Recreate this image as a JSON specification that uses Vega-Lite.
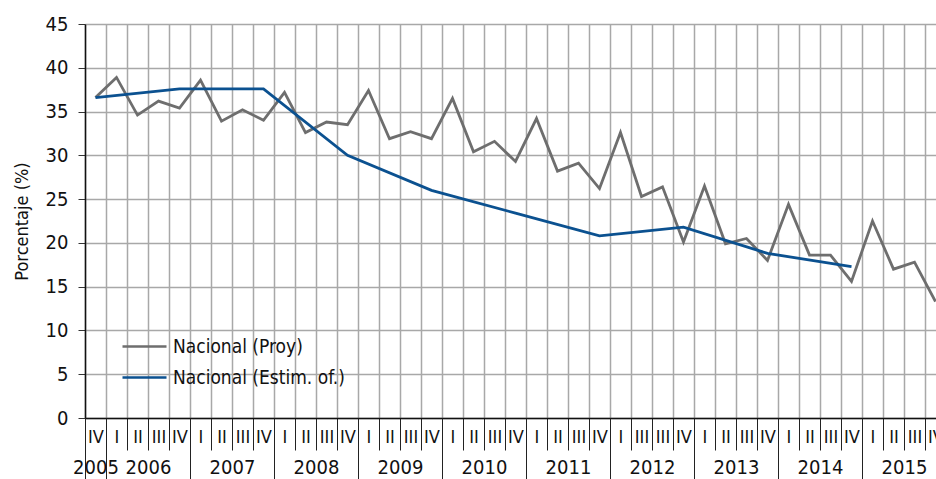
{
  "$schema": "https://vega.github.io/schema/vega-lite/v6.json",
  "width": 851,
  "height": 394,
  "autosize": {"type": "none"},
  "padding": {"left": 85, "top": 24, "right": 0, "bottom": 61},
  "config": {
    "font": "'DejaVu Sans Condensed', Roboto, sans-serif",
    "view": {"stroke": null},
    "axis": {"labelColor": "#111111", "titleColor": "#111111", "labelFont": "'DejaVu Sans Condensed', Roboto, sans-serif", "titleFont": "'DejaVu Sans Condensed', Roboto, sans-serif"},
    "legend": {"labelFont": "'DejaVu Sans Condensed', Roboto, sans-serif"}
  },
  "data": {
    "values": [
      {"serie": "Nacional (Proy)", "periodo": "2005-IV", "t": 2005.875, "valor": 36.6},
      {"serie": "Nacional (Proy)", "periodo": "2006-I", "t": 2006.125, "valor": 38.9},
      {"serie": "Nacional (Proy)", "periodo": "2006-II", "t": 2006.375, "valor": 34.6},
      {"serie": "Nacional (Proy)", "periodo": "2006-III", "t": 2006.625, "valor": 36.2},
      {"serie": "Nacional (Proy)", "periodo": "2006-IV", "t": 2006.875, "valor": 35.4},
      {"serie": "Nacional (Proy)", "periodo": "2007-I", "t": 2007.125, "valor": 38.6},
      {"serie": "Nacional (Proy)", "periodo": "2007-II", "t": 2007.375, "valor": 33.9},
      {"serie": "Nacional (Proy)", "periodo": "2007-III", "t": 2007.625, "valor": 35.2},
      {"serie": "Nacional (Proy)", "periodo": "2007-IV", "t": 2007.875, "valor": 34.0},
      {"serie": "Nacional (Proy)", "periodo": "2008-I", "t": 2008.125, "valor": 37.2},
      {"serie": "Nacional (Proy)", "periodo": "2008-II", "t": 2008.375, "valor": 32.6},
      {"serie": "Nacional (Proy)", "periodo": "2008-III", "t": 2008.625, "valor": 33.8},
      {"serie": "Nacional (Proy)", "periodo": "2008-IV", "t": 2008.875, "valor": 33.5},
      {"serie": "Nacional (Proy)", "periodo": "2009-I", "t": 2009.125, "valor": 37.4},
      {"serie": "Nacional (Proy)", "periodo": "2009-II", "t": 2009.375, "valor": 31.9},
      {"serie": "Nacional (Proy)", "periodo": "2009-III", "t": 2009.625, "valor": 32.7},
      {"serie": "Nacional (Proy)", "periodo": "2009-IV", "t": 2009.875, "valor": 31.9},
      {"serie": "Nacional (Proy)", "periodo": "2010-I", "t": 2010.125, "valor": 36.5},
      {"serie": "Nacional (Proy)", "periodo": "2010-II", "t": 2010.375, "valor": 30.4},
      {"serie": "Nacional (Proy)", "periodo": "2010-III", "t": 2010.625, "valor": 31.6},
      {"serie": "Nacional (Proy)", "periodo": "2010-IV", "t": 2010.875, "valor": 29.3},
      {"serie": "Nacional (Proy)", "periodo": "2011-I", "t": 2011.125, "valor": 34.2},
      {"serie": "Nacional (Proy)", "periodo": "2011-II", "t": 2011.375, "valor": 28.2},
      {"serie": "Nacional (Proy)", "periodo": "2011-III", "t": 2011.625, "valor": 29.1},
      {"serie": "Nacional (Proy)", "periodo": "2011-IV", "t": 2011.875, "valor": 26.2},
      {"serie": "Nacional (Proy)", "periodo": "2012-I", "t": 2012.125, "valor": 32.6},
      {"serie": "Nacional (Proy)", "periodo": "2012-II", "t": 2012.375, "valor": 25.3},
      {"serie": "Nacional (Proy)", "periodo": "2012-III", "t": 2012.625, "valor": 26.4},
      {"serie": "Nacional (Proy)", "periodo": "2012-IV", "t": 2012.875, "valor": 20.1},
      {"serie": "Nacional (Proy)", "periodo": "2013-I", "t": 2013.125, "valor": 26.5},
      {"serie": "Nacional (Proy)", "periodo": "2013-II", "t": 2013.375, "valor": 19.9},
      {"serie": "Nacional (Proy)", "periodo": "2013-III", "t": 2013.625, "valor": 20.5},
      {"serie": "Nacional (Proy)", "periodo": "2013-IV", "t": 2013.875, "valor": 18.0},
      {"serie": "Nacional (Proy)", "periodo": "2014-I", "t": 2014.125, "valor": 24.4},
      {"serie": "Nacional (Proy)", "periodo": "2014-II", "t": 2014.375, "valor": 18.6},
      {"serie": "Nacional (Proy)", "periodo": "2014-III", "t": 2014.625, "valor": 18.6},
      {"serie": "Nacional (Proy)", "periodo": "2014-IV", "t": 2014.875, "valor": 15.6},
      {"serie": "Nacional (Proy)", "periodo": "2015-I", "t": 2015.125, "valor": 22.5},
      {"serie": "Nacional (Proy)", "periodo": "2015-II", "t": 2015.375, "valor": 17.0},
      {"serie": "Nacional (Proy)", "periodo": "2015-III", "t": 2015.625, "valor": 17.8},
      {"serie": "Nacional (Proy)", "periodo": "2015-IV", "t": 2015.875, "valor": 13.3},
      {"serie": "Nacional (Estim. of.)", "periodo": "2005-IV", "t": 2005.875, "valor": 36.6},
      {"serie": "Nacional (Estim. of.)", "periodo": "2006-IV", "t": 2006.875, "valor": 37.6},
      {"serie": "Nacional (Estim. of.)", "periodo": "2007-IV", "t": 2007.875, "valor": 37.6},
      {"serie": "Nacional (Estim. of.)", "periodo": "2008-IV", "t": 2008.875, "valor": 30.0},
      {"serie": "Nacional (Estim. of.)", "periodo": "2009-IV", "t": 2009.875, "valor": 26.0},
      {"serie": "Nacional (Estim. of.)", "periodo": "2010-IV", "t": 2010.875, "valor": 23.4},
      {"serie": "Nacional (Estim. of.)", "periodo": "2011-IV", "t": 2011.875, "valor": 20.8},
      {"serie": "Nacional (Estim. of.)", "periodo": "2012-IV", "t": 2012.875, "valor": 21.8},
      {"serie": "Nacional (Estim. of.)", "periodo": "2013-IV", "t": 2013.875, "valor": 18.8},
      {"serie": "Nacional (Estim. of.)", "periodo": "2014-IV", "t": 2014.875, "valor": 17.3}
    ]
  },
  "resolve": {"axis": {"x": "independent"}},
  "layer": [
    {
      "mark": {"type": "line", "strokeWidth": 2.8, "clip": true},
      "encoding": {
        "x": {
          "field": "t", "type": "quantitative",
          "scale": {"domain": [2005.75, 2015.88095], "nice": false, "zero": false},
          "axis": {
            "orient": "bottom", "title": null, "labels": false,
            "values": [2005.75, 2006, 2006.25, 2006.5, 2006.75, 2007, 2007.25, 2007.5, 2007.75, 2008, 2008.25, 2008.5, 2008.75, 2009, 2009.25, 2009.5, 2009.75, 2010, 2010.25, 2010.5, 2010.75, 2011, 2011.25, 2011.5, 2011.75, 2012, 2012.25, 2012.5, 2012.75, 2013, 2013.25, 2013.5, 2013.75, 2014, 2014.25, 2014.5, 2014.75, 2015, 2015.25, 2015.5, 2015.75],
            "grid": true, "gridColor": "#a8a8a8", "gridWidth": 1.5,
            "ticks": true, "tickSize": 32, "tickColor": "#222222", "tickWidth": 1,
            "domain": true, "domainColor": "#111111", "domainWidth": 1.5
          }
        },
        "y": {
          "field": "valor", "type": "quantitative",
          "scale": {"domain": [0, 45], "nice": false},
          "axis": {
            "title": "Porcentaje (%)", "titleFontSize": 18, "titleFontWeight": "normal", "titlePadding": 14,
            "values": [0, 5, 10, 15, 20, 25, 30, 35, 40, 45],
            "grid": true, "gridColor": "#a8a8a8", "gridWidth": 1.5,
            "tickSize": 7, "tickColor": "#333333", "tickWidth": 1,
            "domainColor": "#111111", "domainWidth": 1.5,
            "labelFontSize": 20, "labelPadding": 10
          }
        },
        "color": {
          "field": "serie", "type": "nominal",
          "scale": {"domain": ["Nacional (Proy)", "Nacional (Estim. of.)"], "range": ["#6e6e6e", "#0b5190"]},
          "legend": {
            "title": null, "orient": "none", "legendX": 36, "legendY": 310,
            "symbolType": "M-1,0H3", "symbolSize": 484, "symbolStrokeWidth": 2.5,
            "labelFontSize": 19, "labelColor": "#111111", "labelOffset": 27, "labelLimit": 400, "rowPadding": 8, "padding": 0
          }
        }
      }
    },
    {
      "mark": {"type": "point", "opacity": 0},
      "encoding": {
        "x": {
          "field": "t", "type": "quantitative",
          "axis": {
            "orient": "bottom", "title": null, "grid": false, "ticks": false, "domain": false,
            "values": [2005.875, 2006.125, 2006.375, 2006.625, 2006.875, 2007.125, 2007.375, 2007.625, 2007.875, 2008.125, 2008.375, 2008.625, 2008.875, 2009.125, 2009.375, 2009.625, 2009.875, 2010.125, 2010.375, 2010.625, 2010.875, 2011.125, 2011.375, 2011.625, 2011.875, 2012.125, 2012.375, 2012.625, 2012.875, 2013.125, 2013.375, 2013.625, 2013.875, 2014.125, 2014.375, 2014.625, 2014.875, 2015.125, 2015.375, 2015.625, 2015.875],
            "labelExpr": "datum.value == 2012.375 ? 'III' : ['I','II','III','IV'][floor((datum.value % 1) * 4)]",
            "labelFontSize": 18, "labelBaseline": "middle", "labelPadding": 19, "labelFlush": false, "labelOverlap": false
          }
        }
      }
    },
    {
      "mark": {"type": "point", "opacity": 0},
      "encoding": {
        "x": {
          "field": "t", "type": "quantitative",
          "axis": {
            "orient": "bottom", "title": null, "grid": false, "labels": false, "domain": false,
            "values": [2005.75, 2006, 2007, 2008, 2009, 2010, 2011, 2012, 2013, 2014, 2015],
            "ticks": true, "tickSize": 62, "tickColor": "#222222", "tickWidth": 1
          }
        }
      }
    },
    {
      "mark": {"type": "point", "opacity": 0},
      "encoding": {
        "x": {
          "field": "t", "type": "quantitative",
          "axis": {
            "orient": "bottom", "title": null, "grid": false, "ticks": false, "domain": false,
            "values": [2005.875, 2006.5, 2007.5, 2008.5, 2009.5, 2010.5, 2011.5, 2012.5, 2013.5, 2014.5, 2015.5],
            "labelExpr": "datum.value < 2006 ? '2005' : format(floor(datum.value), 'd')",
            "labelFontSize": 20, "labelBaseline": "middle", "labelPadding": 49, "labelFlush": false, "labelOverlap": false
          }
        }
      }
    }
  ]
}
